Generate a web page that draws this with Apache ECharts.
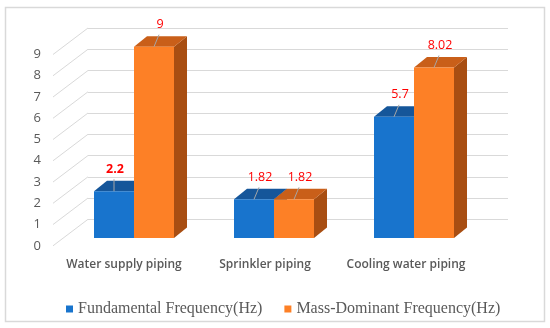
<!DOCTYPE html>
<html><head><meta charset="utf-8">
<script src="https://cdn.jsdelivr.net/npm/echarts@6/dist/echarts.min.js"></script>
<style>html,body{margin:0;padding:0;background:#fff}#c{width:550px;height:328px}</style>
</head><body><div id="c"></div>
<script>
const categories = ['Water supply piping', 'Sprinkler piping', 'Cooling water piping'];
const fundamental = [2.2, 1.82, 5.7];
const massDominant = [9, 1.82, 8.02];
const fundamentalBold = [true, false, false];
const yTicks = [0, 1, 2, 3, 4, 5, 6, 7, 8, 9];
const seriesNames = ['Fundamental Frequency(Hz)', 'Mass-Dominant Frequency(Hz)'];

const chart = echarts.init(document.getElementById('c'), null, {renderer: 'canvas'});
const BW = 40, DX = 13, DY = 10.5;
const palette = [
  {front: '#1874cd', top: '#15569a', side: '#114a85'},
  {front: '#fd8026', top: '#c95f19', side: '#a84e12'}
];
function barRender(si, boldArr) {
  return function (params, api) {
    const i = api.value(0), v = api.value(1);
    const top = api.coord([i, v]);
    const base = api.coord([i, 0]);
    const x0 = si === 0 ? top[0] - BW : top[0];
    const x1 = x0 + BW;
    const yT = top[1], yB = base[1];
    const c = palette[si];
    const cx = (x0 + x1) / 2;
    const bold = boldArr ? boldArr[params.dataIndex] : false;
    const lx = bold ? 0 : 5;
    return {type: 'group', children: [
      {type: 'polygon', shape: {points: [[x1, yB], [x1 + DX, yB - DY], [x1 + DX, yT - DY], [x1, yT]]}, style: {fill: c.side}},
      {type: 'polygon', shape: {points: [[x0, yT], [x0 + DX, yT - DY], [x1 + DX, yT - DY], [x1, yT]]}, style: {fill: c.top}},
      {type: 'rect', shape: {x: x0, y: yT, width: BW, height: yB - yT}, style: {fill: c.front}},
      {type: 'line', shape: {x1: cx, y1: yT, x2: cx + lx, y2: yT - 12}, style: {stroke: '#a6a6a6', lineWidth: 1}},
      {type: 'text', x: cx + lx + 1, y: yT - 22, style: {text: String(v), fill: '#ff0000',
        font: (bold ? 'bold ' : '') + '12.5px "Open Sans"', align: 'center', verticalAlign: 'middle'}}
    ]};
  };
}

const option = {
  animation: false,
  backgroundColor: '#fff',
  graphic: [{type: 'rect', shape: {x: 5.5, y: 7.5, width: 539, height: 314}, style: {fill: 'none', stroke: '#d9d9d9', lineWidth: 1.5}}],
  legend: {
    data: seriesNames, top: 296, left: 61, icon: 'rect', itemWidth: 7, itemHeight: 7, itemGap: 22,
    textStyle: {fontFamily: 'Liberation Serif', fontSize: 16, color: '#595959'}
  },
  grid: [
    {left: 88, right: 42, top: 28, bottom: 108.7},
    {left: 64, right: 66, top: 46.7, bottom: 90},
    {left: 53.5, right: 73.5, top: 0, bottom: 72}
  ],
  xAxis: [
    {gridIndex: 0, type: 'value', min: 0, max: 1, show: false},
    {gridIndex: 1, type: 'category', data: categories, show: false},
    {gridIndex: 2, type: 'category', data: categories, axisLine: {show: false}, axisTick: {show: false},
      axisLabel: {interval: 0, margin: 3, fontFamily: 'Open Sans', fontSize: 12, fontWeight: 600, color: '#595959'}}
  ],
  yAxis: [
    {gridIndex: 0, type: 'value', min: 0, max: 9, interval: 1, axisLine: {show: false}, axisTick: {show: false},
      axisLabel: {show: false}, splitLine: {lineStyle: {color: '#d9d9d9', width: 1}}},
    {gridIndex: 1, type: 'value', min: 0, max: 9, show: false},
    {gridIndex: 2, type: 'value', min: 0, max: 1, show: false}
  ],
  series: [
    {type: 'custom', name: 'walls', xAxisIndex: 0, yAxisIndex: 0, silent: true,
      data: yTicks.map(v => [0, v]),
      renderItem: function (params, api) {
        const v = api.value(1);
        const p = api.coord([0, v]);
        return {type: 'group', children: [
          {type: 'line', shape: {x1: p[0] - 35, y1: p[1] + 26.5, x2: p[0], y2: p[1]}, style: {stroke: '#d9d9d9', lineWidth: 1}},
          {type: 'text', x: p[0] - 47, y: p[1] + 26.5, style: {text: String(v), fill: '#595959', font: '13px "Open Sans"', align: 'right', verticalAlign: 'middle'}}
        ]};
      }},
    {type: 'custom', name: seriesNames[0], xAxisIndex: 1, yAxisIndex: 1, itemStyle: {color: '#1874cd'},
      data: fundamental.map((v, i) => [i, v]), renderItem: barRender(0, fundamentalBold)},
    {type: 'custom', name: seriesNames[1], xAxisIndex: 1, yAxisIndex: 1, itemStyle: {color: '#fd8026'},
      data: massDominant.map((v, i) => [i, v]), renderItem: barRender(1, null)}
  ]
};
chart.setOption(option);
</script></body></html>
